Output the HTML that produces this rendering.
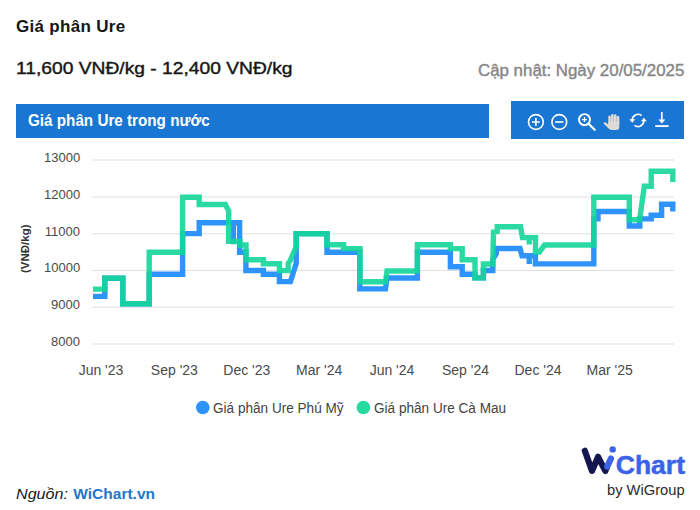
<!DOCTYPE html>
<html>
<head>
<meta charset="utf-8">
<title>Giá phân Ure</title>
<style>
html,body{margin:0;padding:0;background:#fff;}
body{width:700px;height:510px;position:relative;overflow:hidden;font-family:"Liberation Sans",sans-serif;color:#111;}
.t{position:absolute;white-space:nowrap;line-height:1;transform-origin:0 0;}
#title{left:16px;top:17.8px;font-size:17px;font-weight:bold;color:#161616;letter-spacing:0.3px;}
#range{left:16px;top:59.7px;font-size:17px;color:#161616;-webkit-text-stroke:0.4px #161616;transform:scaleX(1.131);}
#upd{left:478px;top:63.45px;font-size:16px;color:#878787;-webkit-text-stroke:0.4px #878787;transform:scaleX(1.054);}
#bar{position:absolute;left:16.2px;top:104.1px;width:472.4px;height:34.3px;background:#1976d2;}
#bartxt{left:27.5px;top:112.4px;font-size:16.5px;font-weight:bold;color:#fff;transform:scaleX(0.923);}
#tools{position:absolute;left:511px;top:101.4px;width:173px;height:37.2px;background:#1976d2;}
.yl{font-size:13px;color:#4a4a4a;text-align:right;left:44px;width:36px;}
.xl{font-size:14px;color:#4a4a4a;top:362.5px;width:60px;text-align:center;}
.lg{font-size:14px;color:#444;top:400.6px;transform:scaleX(0.97);}
#src1{left:16px;top:485.9px;font-size:15.5px;font-style:italic;color:#161616;transform:scaleX(1.04);}
#src2{left:73.3px;top:485.9px;font-size:15.5px;font-weight:bold;color:#2277cc;}
#by{left:607.3px;top:482.8px;font-size:14px;color:#2a2a2a;transform:scaleX(1.05);}
#ytitle{left:19.8px;top:272.5px;font-size:11.5px;font-weight:bold;color:#333;transform:rotate(-90deg);}
#chartw{left:615.8px;top:451.6px;font-size:26.5px;font-weight:bold;color:#3b63e8;-webkit-text-stroke:0.5px #3b63e8;}
svg{position:absolute;left:0;top:0;}
</style>
</head>
<body>
<div class="t" id="title">Giá phân Ure</div>
<div class="t" id="range">11,600 VNĐ/kg - 12,400 VNĐ/kg</div>
<div class="t" id="upd">Cập nhật: Ngày 20/05/2025</div>
<div id="bar"></div>
<div class="t" id="bartxt">Giá phân Ure trong nước</div>
<div id="tools"></div>

<svg width="700" height="510" viewBox="0 0 700 510">
  <g stroke="#e0e0e0" stroke-width="1.1">
    <line x1="92.5" x2="674" y1="160" y2="160"/>
    <line x1="92.5" x2="674" y1="197" y2="197"/>
    <line x1="92.5" x2="674" y1="233.7" y2="233.7"/>
    <line x1="92.5" x2="674" y1="270.5" y2="270.5"/>
    <line x1="92.5" x2="674" y1="307.3" y2="307.3"/>
    <line x1="92.5" x2="674" y1="344" y2="344"/>
  </g>
  <g fill="none" stroke-width="5.4" stroke-linejoin="miter" stroke-linecap="butt">
    <path id="blue" stroke="#2e93fa" d="M93,296.4 H104.8 V278.3 H122.8 V303.7 H149.2 V274.2 H182.6 V233.6 H199.2 V222.7 H233.3 V244.2 V222.7 H239.6 V252.2 H245.9 V270.5 H263.4 V274.2 H279.4 V281.6 H290.4 L296.2,263.5 V233.6 H327 V252.2 H359.8 V288.9 H385.5 L387,278 H417.4 V252.2 H450.4 V266.8 H462.2 V274.2 H475 V277.8 H483.4 V270.5 H492.8 V259.5 L496.3,253.5 V248.5 H520 L522,255.8 H529.2 V264 V255.8 H535.4 V263.9 H593.8 V218.9 H598 V211.5 H629.3 V226 H639.8 V218.9 H651.2 V215.2 H661.6 V204.2 H672.8 V211.5"/>
    <path id="green" stroke="#14d699" stroke-opacity="0.9" d="M93,289.1 H104.8 V278.1 H122.8 V303.7 H149.2 V252.2 H182.6 V197.2 H199.2 V204.5 H225.3 L228.7,211 V241.4 H240 V245 H246 V259.7 H263.4 V263.8 H279.4 V270.6 H288.2 V263.5 L290,261 L296.3,246.5 V233.8 H327 V244.8 H343.6 V248.6 H360 V281.8 H385.5 L387,271 H417.4 V244.8 H450.4 V248.6 H462.2 V259.7 H475 V277.8 H483.4 V264 H492.8 L493.5,232 L497.2,231.5 V226.8 H520.5 L522.5,237.6 H529.2 V244.6 V237.6 H535.5 V252 H539.5 L544.5,245 H593.8 V197.2 H629.3 V219.8 H639.6 L644.3,186.2 H651.2 V171.2 H672.8 V182"/>
  </g>
  <circle cx="202.8" cy="407.5" r="6.8" fill="#2e93fa"/>
  <circle cx="363.4" cy="407.5" r="6.8" fill="#24da9f"/>

  <!-- toolbar icons -->
  <g fill="none" stroke="#fff" stroke-width="1.6">
    <circle cx="535.9" cy="122" r="7.4"/>
    <path d="M532,122 H539.8 M535.9,118.1 V125.9"/>
    <circle cx="559.3" cy="122" r="7.4"/>
    <path d="M555.1,122 H563.5"/>
    <circle cx="584.5" cy="119.6" r="5.5" stroke-width="1.9"/>
    <path d="M582,119.6 H587 M584.5,117.1 V122.1" stroke-width="1.3"/>
    <path d="M588.6,123.7 L594.7,129.8" stroke-width="2.2" stroke-linecap="round"/>
  </g>
  <!-- hand -->
  <rect x="609" y="116.5" width="9.8" height="6.5" fill="#8d9bb0"/>
  <g fill="#dedbd6" stroke="none">
    <rect x="608.3" y="115.6" width="2.4" height="9" rx="1.2"/>
    <rect x="611.1" y="114" width="2.5" height="10" rx="1.2"/>
    <rect x="614" y="114.3" width="2.5" height="10" rx="1.2"/>
    <rect x="616.9" y="116" width="2.4" height="9" rx="1.2"/>
    <path d="M608.3,121.8 H619.3 V127 Q619.3,130 616.3,130 H611.5 Q609.8,130 608.6,128.6 L603.6,123.6 Q603.2,122.6 604.3,122.3 Q605.5,122 606.4,122.9 L608.3,124.6 Z"/>
  </g>
  <!-- refresh -->
  <g fill="none" stroke="#fff" stroke-width="1.6">
    <path d="M641.6,115.6 A5.9,5.9 0 0 0 632.1,120"/>
    <path d="M634.4,125.3 A5.9,5.9 0 0 0 643.9,120.6"/>
  </g>
  <path d="M629.4,119.3 H635.2 L632.3,122.8 Z" fill="#fff"/>
  <path d="M641,121.2 H646.8 L643.9,117.7 Z" fill="#fff"/>
  <!-- download -->
  <g fill="none" stroke="#fff" stroke-width="1.7">
    <path d="M661.8,112 V122.5"/>
    <path d="M655.2,126.1 H668.6" stroke-width="1.9"/>
  </g>
  <path d="M658.3,119.6 H665.3 L661.8,123.6 Z" fill="#fff"/>

  <!-- logo -->
  <g fill="none" stroke-linecap="round" stroke-linejoin="round" stroke-width="6.2">
    <path d="M584.8,450.8 L592,470.9 L598.1,456.8 L605.3,470.9 L606.9,467.2" stroke="#14164f"/>
    <path d="M607.2,466.6 L610.9,458.6" stroke="#3b63e8"/>
  </g>
  <circle cx="612.7" cy="449.4" r="3.2" fill="#3b63e8"/>
</svg>

<div class="t yl" style="top:150.8px;">13000</div>
<div class="t yl" style="top:187.8px;">12000</div>
<div class="t yl" style="top:224.5px;">11000</div>
<div class="t yl" style="top:261.3px;">10000</div>
<div class="t yl" style="top:298.1px;">9000</div>
<div class="t yl" style="top:334.8px;">8000</div>
<div class="t" id="ytitle">(VNĐ/kg)</div>

<div class="t xl" style="left:71px;">Jun '23</div>
<div class="t xl" style="left:144.4px;">Sep '23</div>
<div class="t xl" style="left:216.8px;">Dec '23</div>
<div class="t xl" style="left:289.2px;">Mar '24</div>
<div class="t xl" style="left:362px;">Jun '24</div>
<div class="t xl" style="left:435.5px;">Sep '24</div>
<div class="t xl" style="left:508px;">Dec '24</div>
<div class="t xl" style="left:579.7px;">Mar '25</div>

<div class="t lg" style="left:213.3px;">Giá phân Ure Phú Mỹ</div>
<div class="t lg" style="left:373.6px;">Giá phân Ure Cà Mau</div>

<div class="t" id="src1">Nguồn:</div>
<div class="t" id="src2">WiChart.vn</div>
<div class="t" id="chartw">Chart</div>
<div class="t" id="by">by WiGroup</div>
</body>
</html>
